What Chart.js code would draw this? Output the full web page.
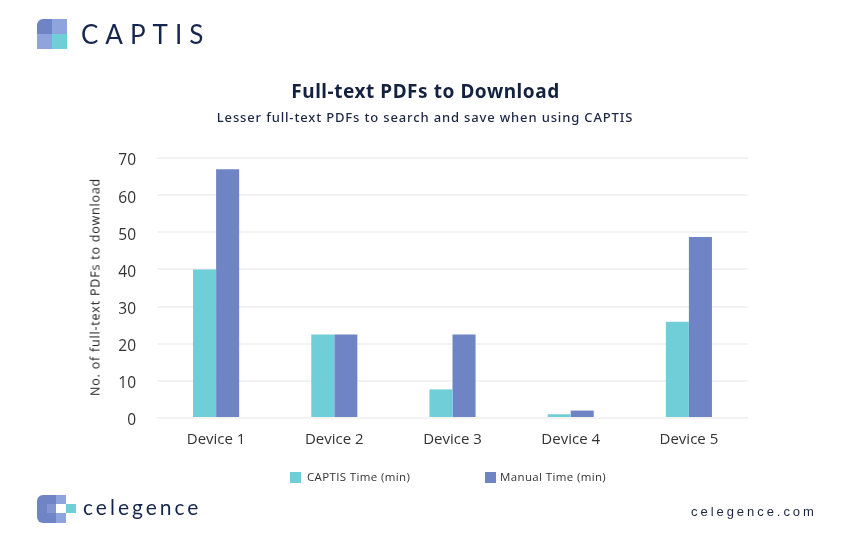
<!DOCTYPE html>
<html>
<head>
<meta charset="utf-8">
<title>Full-text PDFs to Download</title>
<script src="https://cdn.jsdelivr.net/npm/chart.js@4"></script>
<style>
  html, body { margin: 0; padding: 0; background: #fff; }
  #page { position: relative; width: 845px; height: 542px; overflow: hidden; font-family: "Open Sans", sans-serif; }
  #page canvas { position: absolute; left: 0; top: 0; }
  .abs { position: absolute; white-space: nowrap; }
  .sq { position: absolute; }
  #title { left: 0; width: 851px; top: 78px; text-align: center; font: 700 19px "Noto Sans", sans-serif; letter-spacing: .55px; color: #14213f; }
  #subtitle { left: 0; width: 850px; top: 108px; text-align: center; font: 500 13px "Noto Sans", sans-serif; letter-spacing: .85px; color: #1c2745; }
  #captisName { left: 81px; top: 18px; font: 400 26px Lato, sans-serif; letter-spacing: 7px; color: #14264d; }
  #celegenceName { left: 83px; top: 494px; font: 400 21px Lato, sans-serif; letter-spacing: 3px; color: #14264d; }
  #site { left: 691px; top: 504px; font: 500 13px "Liberation Sans", sans-serif; letter-spacing: 2.95px; color: #1c2745; }
  #yTitle { left: 95px; top: 287px; transform: translate(-50%, -50%) rotate(-90deg); font: 400 12.5px "Open Sans", sans-serif; letter-spacing: .8px; color: #222; }
  .legendBox { position: absolute; top: 472px; width: 11px; height: 11px; }
  .legendText { position: absolute; top: 469px; font: 400 11.5px "Open Sans", sans-serif; letter-spacing: .37px; color: #333; white-space: nowrap; }
</style>
</head>
<body>
<div id="page">
  <canvas id="pdfChart" width="845" height="542"></canvas>

  <!-- CAPTIS logo -->
  <div class="sq" style="left:37px;top:19px;width:15px;height:15px;background:#6f84c4;border-top-left-radius:6px"></div>
  <div class="sq" style="left:52px;top:19px;width:15px;height:15px;background:#8fa3dc"></div>
  <div class="sq" style="left:37px;top:34px;width:15px;height:15px;background:#8fa3dc"></div>
  <div class="sq" style="left:52px;top:34px;width:15px;height:15px;background:#6fced8"></div>
  <div class="abs" id="captisName">CAPTIS</div>

  <div class="abs" id="title">Full-text PDFs to Download</div>
  <div class="abs" id="subtitle">Lesser full-text PDFs to search and save when using CAPTIS</div>
  <div class="abs" id="yTitle">No. of full-text PDFs to download</div>

  <div id="legend"></div>

  <!-- celegence logo -->
  <div class="sq" style="left:37px;top:495px;width:19px;height:28px;background:#6f84c4;border-radius:6px 0 0 6px"></div>
  <div class="sq" style="left:47px;top:504px;width:9px;height:9px;background:#8496d0"></div>
  <div class="sq" style="left:56px;top:495px;width:10px;height:9px;background:#8fa3dc"></div>
  <div class="sq" style="left:56px;top:513px;width:10px;height:10px;background:#8fa3dc"></div>
  <div class="sq" style="left:66px;top:504px;width:10px;height:9px;background:#6fced8"></div>
  <div class="abs" id="celegenceName">celegence</div>
  <div class="abs" id="site">celegence.com</div>
</div>

<script>
// Data
const categories = ['Device 1', 'Device 2', 'Device 3', 'Device 4', 'Device 5'];
const captisTime = [40, 22.5, 7.7, 1, 25.9];
const manualTime = [67, 22.5, 22.5, 2, 48.7];
const seriesLabels = ['CAPTIS Time (min)', 'Manual Time (min)'];
const seriesColors = ['#6fced8', '#6f84c4'];

const ctx = document.getElementById('pdfChart');

new Chart(ctx, {
    type: 'bar',
    data: {
        labels: categories,
        datasets: [
            { label: seriesLabels[0], data: captisTime, backgroundColor: seriesColors[0] },
            { label: seriesLabels[1], data: manualTime, backgroundColor: seriesColors[1] }
        ]
    },
    options: {
        responsive: false,
        animation: false,
        devicePixelRatio: 1,
        layout: { padding: { left: 88, right: 97, top: 158, bottom: 84 } },
        categoryPercentage: 0.39,
        barPercentage: 1,
        plugins: {
            legend: { display: false },
            tooltip: { enabled: false }
        },
        scales: {
            x: {
                grid: { display: false },
                border: { display: false },
                afterFit: function(scale) { scale.height = 40; },
                ticks: {
                    color: '#333',
                    font: { family: '"Open Sans"', size: 15 },
                    padding: 5,
                    maxRotation: 0
                }
            },
            y: {
                min: 0,
                max: 70,
                afterFit: function(scale) { scale.width = 69; },
                grid: { color: '#f3f3f3', lineWidth: 2, drawTicks: false },
                border: { display: false },
                ticks: {
                    stepSize: 10,
                    color: '#333',
                    font: { family: '"Open Sans"', size: 15.5 },
                    padding: 21,
                    labelOffset: 3
                }
            }
        }
    }
});

// Legend is laid out by hand because the two items sit far apart
const legendEl = document.getElementById('legend');
const legendBoxX = [290, 485];
const legendTextX = [307, 500];
seriesLabels.forEach(function(label, i) {
    const box = document.createElement('div');
    box.className = 'legendBox';
    box.style.left = legendBoxX[i] + 'px';
    box.style.background = seriesColors[i];
    legendEl.appendChild(box);

    const text = document.createElement('div');
    text.className = 'legendText';
    text.style.left = legendTextX[i] + 'px';
    text.textContent = label;
    legendEl.appendChild(text);
});
</script>
</body>
</html>
